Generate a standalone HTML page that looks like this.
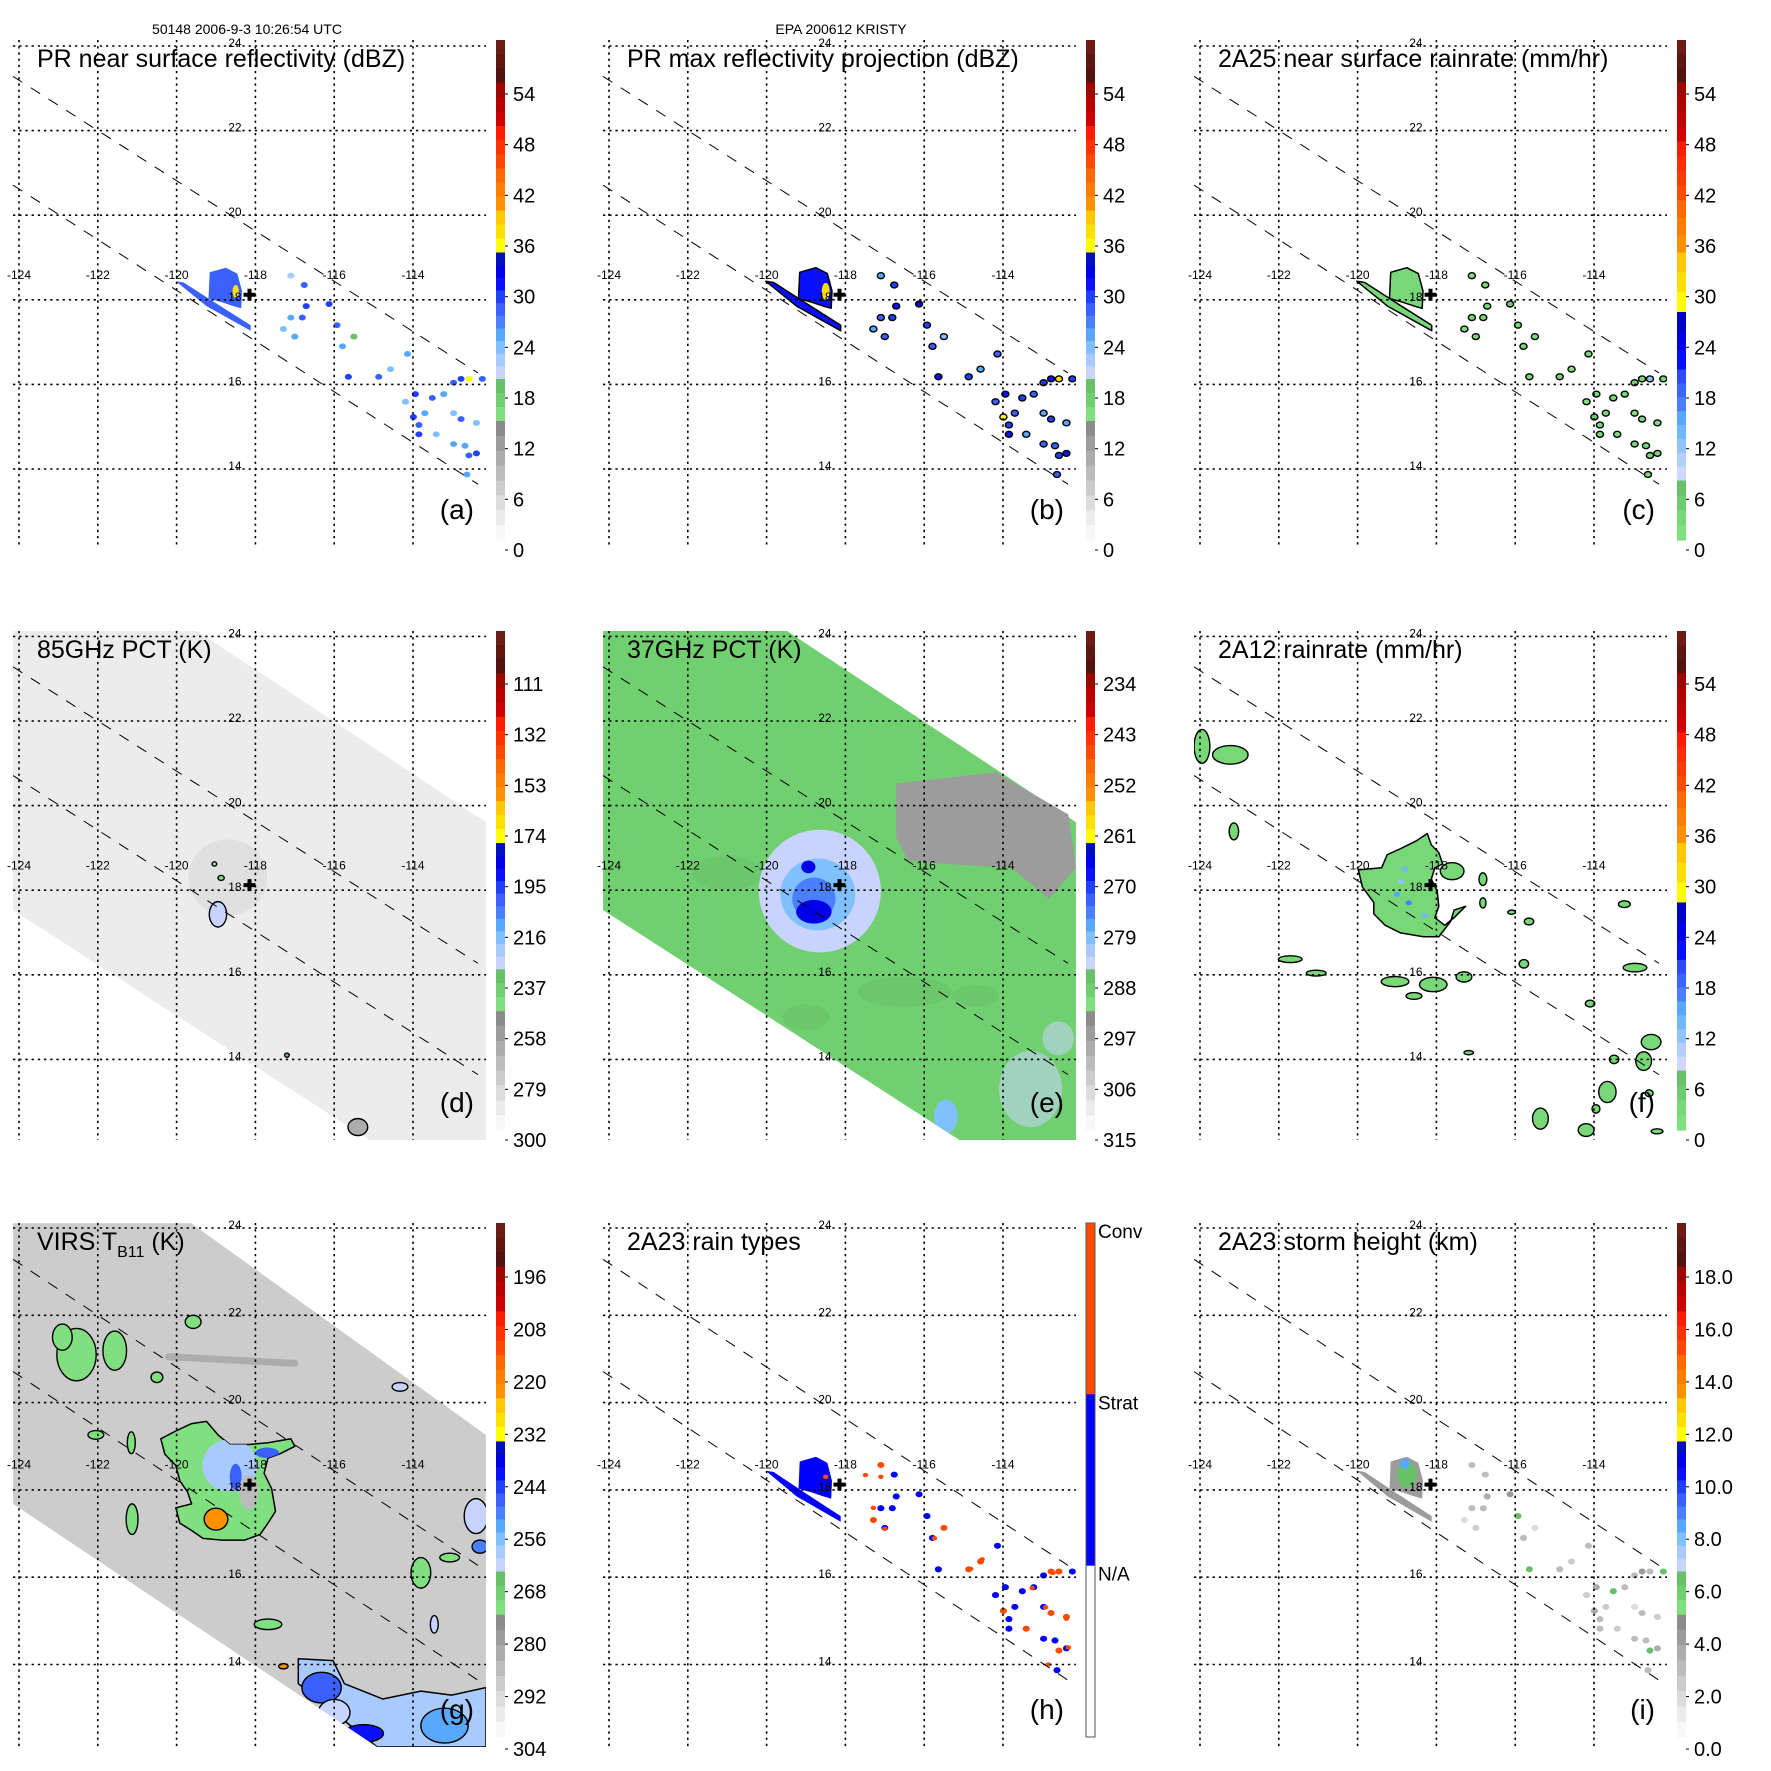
<!DOCTYPE html>
<html>
<head>
<meta charset="utf-8">
<style>
body{margin:0;background:#fff}
svg{display:block}
text{font-family:"Liberation Sans",sans-serif;fill:#000}
</style>
</head>
<body>
<svg id="fig" width="1771" height="1771" viewBox="0 0 1771 1771" xmlns="http://www.w3.org/2000/svg">
<rect x="0" y="0" width="1771" height="1771" fill="#ffffff"/>
<text x="247" y="34" font-size="14" text-anchor="middle">50148 2006-9-3 10:26:54 UTC</text>
<text x="841" y="34" font-size="14" text-anchor="middle">EPA 200612 KRISTY</text>
</svg>
<script>
// ---------------- data ----------------
const lonTicks=[-124,-122,-120,-118,-116,-114];
const latTicks=[24,22,20,18,16,14];
const dbzTicks=[54,48,42,36,30,24,18,12,6,0];
const pct85Ticks=[111,132,153,174,195,216,237,258,279,300];
const pct37Ticks=[234,243,252,261,270,279,288,297,306,315];
const virsTicks=[196,208,220,232,244,256,268,280,292,304];
const heightTicks=["18.0","16.0","14.0","12.0","10.0","8.0","6.0","4.0","2.0","0.0"];
const rainTypeTicks=["Conv","Strat","N/A"];
const stormCenter=[-118.15,18.12];
const swathLine1=[[-124.15,23.28],[-112.35,16.27]];
const swathLine2=[[-124.15,20.71],[-112.35,13.64]];
// PR echo cells (lon, lat)
const prCellLon=[-117.10,-116.76,-116.71,-116.81,-117.00,-117.29,-117.10,-116.13,-115.93,-115.50,-115.79,-115.64,-114.87,-114.57,-114.14,-113.94,-114.19,-113.51,-113.22,-112.97,-112.78,-112.58,-112.24,-113.99,-113.85,-113.70,-112.97,-112.78,-113.85,-113.41,-112.97,-112.39,-112.58,-112.68,-112.39,-112.63];
const prCellLat=[18.57,18.35,17.85,17.58,17.13,17.31,17.58,17.90,17.40,17.13,16.90,16.18,16.18,16.36,16.72,15.77,15.59,15.68,15.77,16.04,16.13,16.13,16.13,15.23,15.04,15.32,15.32,15.18,14.82,14.82,14.59,14.37,14.32,14.55,15.09,13.87];
const aCellVal=[22,28,30,28,26,24,26,30,28,20,26,30,28,24,26,30,24,28,26,28,30,36,28,30,28,26,24,28,30,24,26,30,28,26,24,26];
const bCellVal=[26,30,32,30,28,26,28,34,30,24,28,32,30,26,28,32,28,30,28,30,32,38,30,36,30,28,26,30,32,26,28,32,30,28,26,28];
const cCellVal=[2,3,4,3,3,2,3,5,4,1,3,4,3,2,3,4,2,3,3,3,4,12,3,5,3,3,2,3,4,2,3,4,3,3,2,3];
const hCellType=[2,1,1,1,1,2,1,1,1,2,1,1,2,2,1,1,1,1,1,1,2,2,1,2,1,1,1,2,1,2,1,1,2,1,2,1];
const iCellVal=[3,3,3.5,3,2.5,2,3,4,6.5,2,3,6.5,3,2.5,3,3.5,2.5,6.5,3,3,4,3,6.5,3.5,3,2.5,2,3,3,2.5,3,3.5,6.5,3,2.5,3];
// PR main echo (polygon)
const prBlobLon=[-119.16,-118.75,-118.46,-118.34,-118.36,-118.56,-118.85,-119.19];
const prBlobLat=[18.65,18.76,18.62,18.21,17.80,17.85,17.94,18.03];
const prBandLon=[-120.02,-119.82,-119.04,-118.12,-118.12,-119.24];
const prBandLat=[18.44,18.41,17.94,17.40,17.27,17.85];
const aBlobVal=29, bBlobVal=31, cBlobVal=4, iBlobVal=4.0;
// 2A23 convective pixels
const hConvLon=[-117.49,-117.10,-117.29,-117.00,-115.74,-114.82,-114.53,-113.26,-112.92,-113.99,-112.39,-112.73,-112.34,-112.85,-118.5];
const hConvLat=[18.34,18.30,17.59,17.11,16.89,16.19,16.41,15.75,15.31,15.22,15.05,16.10,14.39,14.00,18.3];
// microwave / IR swath edges
const swathRow2Lon=[-124.15,-119.5,-112.15,-112.15,-115.1,-124.15];
const swathRow2Lat=[24.14,24.14,19.61,12.09,12.09,17.53];
const swathRow3Lon=[-124.15,-119.63,-112.15,-112.15,-114.91,-124.15];
const swathRow3Lat=[24.11,24.11,19.26,12.11,12.11,17.68];
// (d) 85GHz
const dSwathVal=285;
const dBlobLon=[-118.7,-118.95,-119.04,-118.87,-117.2,-115.4];
const dBlobLat=[18.3,17.43,18.62,18.29,14.1,12.4];
const dBlobVal=[272,228,245,245,230,262];
const dBlobRxDeg=[1.0,0.22,0.06,0.08,0.06,0.25];
const dBlobRyDeg=[0.9,0.3,0.05,0.06,0.05,0.2];
// (e) 37GHz
const eSwathVal=289;
const eWarmLon=[-116.71,-114.19,-112.34,-112.15,-112.83,-113.80,-115.45,-116.42,-116.71];
const eWarmLat=[20.52,20.79,19.79,18.53,17.80,18.53,18.62,18.71,19.25];
const eWarmVal=295;
const ePatchLon=[-121.0,-116.5,-113.3,-112.6,-114.7,-119.0,-118.65,-118.7,-118.8,-118.94,-118.80,-115.45];
const ePatchLat=[18.4,15.6,13.3,14.5,15.5,15.0,17.98,17.9,17.8,18.55,17.49,12.65];
const ePatchVal=[285,285,284,284,285,285,284,279,274,266,266,278];
const ePatchRxDeg=[0.9,1.2,0.8,0.4,0.6,0.6,1.55,0.95,0.55,0.18,0.45,0.3];
const ePatchRyDeg=[0.4,0.35,0.9,0.4,0.25,0.3,1.45,0.85,0.5,0.15,0.28,0.4];
// (f) 2A12
const fMainLon=[-119.98,-119.39,-119.25,-118.91,-118.52,-118.23,-118.13,-117.94,-117.84,-118.04,-118.13,-117.98,-117.94,-118.04,-117.79,-117.55,-117.26,-117.55,-117.64,-117.94,-118.33,-118.91,-119.30,-119.59,-119.59,-119.88];
const fMainLat=[18.48,18.53,18.84,18.98,19.16,19.34,19.07,18.89,18.62,18.53,18.26,17.98,17.62,17.35,17.17,17.35,17.62,17.53,17.26,16.90,16.90,16.99,17.17,17.44,17.71,18.08];
const fMainVal=3;
const fBlobLon=[-123.95,-123.23,-123.14,-121.71,-121.05,-119.05,-118.57,-118.08,-117.30,-117.6,-116.82,-116.82,-116.09,-115.65,-115.78,-112.96,-113.23,-114.10,-112.55,-112.74,-113.49,-113.66,-115.36,-114.20,-113.95,-117.18,-112.6,-112.4];
const fBlobLat=[21.4,21.2,19.39,16.37,16.04,15.84,15.50,15.77,15.95,18.45,18.26,17.70,17.48,17.26,16.26,16.17,17.67,15.32,14.41,13.96,14.00,13.23,12.60,12.33,12.83,14.16,13.2,12.3];
const fBlobVal=[3,3,3,3,3,3,3,3,3,3,3,3,3,3,3,3,3,3,3,3,3,3,3,3,3,3,3,3];
const fBlobRxDeg=[0.2,0.45,0.12,0.3,0.25,0.35,0.2,0.35,0.2,0.3,0.1,0.08,0.1,0.12,0.12,0.3,0.15,0.12,0.25,0.2,0.12,0.22,0.2,0.2,0.1,0.12,0.1,0.15];
const fBlobRyDeg=[0.4,0.22,0.2,0.08,0.07,0.12,0.08,0.17,0.12,0.2,0.15,0.12,0.05,0.08,0.1,0.1,0.08,0.08,0.18,0.22,0.1,0.25,0.25,0.15,0.1,0.05,0.08,0.06];
const fSpotLon=[-118.8,-119.0,-118.7,-118.3,-118.9];
const fSpotLat=[18.5,17.9,17.7,17.4,18.2];
const fSpotVal=[14,16,18,14,12];
// (g) VIRS
const gSwathVal=290;
const gStormLon=[-120.40,-120.02,-119.62,-119.24,-118.95,-118.65,-118.17,-117.68,-117.10,-117.00,-117.39,-117.68,-117.78,-117.59,-117.49,-117.68,-117.88,-118.27,-118.85,-119.33,-119.62,-119.92,-120.02,-119.62,-119.72,-119.92,-120.02,-120.30];
const gStormLat=[19.17,19.35,19.52,19.57,19.26,19.04,19.04,19.08,19.17,19.00,18.82,18.73,18.38,18.03,17.51,17.24,16.98,16.85,16.85,16.89,17.07,17.24,17.59,17.68,17.95,18.21,18.56,18.82];
const gStormVal=270;
const gInnerLon=[-118.65,-118.5,-117.7,-118.17,-119.0];
const gInnerLat=[18.56,18.3,18.85,17.95,17.33];
const gInnerVal=[258,248,248,286,222];
const gInnerRxDeg=[0.7,0.15,0.3,0.25,0.3];
const gInnerRyDeg=[0.6,0.3,0.12,0.4,0.25];
const gSouthLon=[-116.91,-116.03,-115.74,-114.77,-113.80,-113.02,-112.15,-112.15,-114.91,-116.91];
const gSouthLat=[14.13,14.09,13.56,13.21,13.39,13.30,13.47,12.11,12.11,13.56];
const gSouthVal=258;
const gBlobLon=[-122.54,-121.57,-122.9,-120.50,-119.58,-122.05,-121.13,-121.15,-116.32,-115.25,-112.4,-112.3,-113.8,-113.46,-113.07,-117.68,-114.33,-117.29,-113.2,-116.0];
const gBlobLat=[21.10,21.19,21.5,20.58,21.85,19.26,17.33,19.08,13.47,12.42,17.4,16.7,16.10,14.92,16.45,14.92,20.36,13.96,12.6,12.9];
const gBlobVal=[270,270,270,270,270,270,270,270,248,240,262,250,270,262,270,270,262,222,252,262];
const gBlobRxDeg=[0.5,0.3,0.25,0.15,0.2,0.2,0.15,0.1,0.5,0.5,0.3,0.2,0.25,0.1,0.25,0.35,0.2,0.12,0.6,0.4];
const gBlobRyDeg=[0.6,0.45,0.3,0.12,0.15,0.1,0.35,0.25,0.35,0.2,0.4,0.15,0.35,0.2,0.1,0.12,0.1,0.06,0.4,0.3];
const gStreakLon=[-120.2,-117.0];
const gStreakLat=[21.05,20.9];
const gStreakVal=282;

// ---------------- layout ----------------
const COLS=[0,590,1181];
const ROWS=[
 {top:40,lat0:46,ky:42.3,bot:547,cbTop:40,cbBot:540,lblBot:550,span:456},
 {top:631,lat0:636.4,ky:42.3,bot:1140,cbTop:631,cbBot:1130,lblBot:1140,span:456},
 {top:1223,lat0:1228,ky:43.65,bot:1747,cbTop:1223,cbBot:1737,lblBot:1749,span:472}
];
function band(f0,f1,cols){return cols.map((c,i)=>[f0+(f1-f0)*i/cols.length,f0+(f1-f0)*(i+1)/cols.length,c]);}
const BROWN=['#6b1c14','#5e1610','#521210'];
const PAL_A=[].concat(
 band(0,.085,BROWN),
 band(.085,.172,['#9c0800','#b80000','#cc0000']),
 band(.172,.257,['#ff1c00','#ff3200','#ff4800']),
 band(.257,.341,['#ff6a00','#ff7e00','#ff9000']),
 band(.341,.425,['#ffc800','#ffe000','#ffff00']),
 band(.425,.678,['#0010c0','#0000e8','#0a10ff','#2040ff','#3a60ff','#4a80ff','#58a8ff','#80c0ff','#a8caff','#c8d4ff']),
 band(.678,.762,['#68c068','#70d070','#80e080']),
 band(.762,1,['#8c8c8c','#9c9c9c','#acacac','#bcbcbc','#cccccc','#dcdcdc','#ececec','#f8f8f8']));
const PAL_C=[].concat(
 band(0,.084,BROWN),
 band(.084,.203,['#9c0800','#b00000','#c00000','#d00000']),
 band(.203,.321,['#ff1c00','#ff2c00','#ff3c00','#ff4c00']),
 band(.321,.425,['#ff6a00','#ff7e00','#ff9000']),
 band(.425,.544,['#ffc800','#ffe000','#ffff00']),
 band(.544,.659,['#0000c8','#0000e8','#0010ff']),
 band(.659,.881,['#3048ff','#3c64ff','#4a80ff','#58a8ff','#70b8ff','#90c4ff','#b4ceff','#d0d8ff']),
 band(.881,1,['#68c068','#70cc70','#78d878','#80e080']));
const PAL_H=[[0,1/3,'#ff4a00'],[1/3,2/3,'#0000ff'],[2/3,1,'#ffffff']];
const PANELS=[
 {id:'a',col:0,row:0,title:'PR near surface reflectivity (dBZ)',ticks:dbzTicks,pal:PAL_A},
 {id:'b',col:1,row:0,title:'PR max reflectivity projection (dBZ)',ticks:dbzTicks,pal:PAL_A},
 {id:'c',col:2,row:0,title:'2A25 near surface rainrate (mm/hr)',ticks:dbzTicks,pal:PAL_C},
 {id:'d',col:0,row:1,title:'85GHz PCT (K)',ticks:pct85Ticks,pal:PAL_A},
 {id:'e',col:1,row:1,title:'37GHz PCT (K)',ticks:pct37Ticks,pal:PAL_A},
 {id:'f',col:2,row:1,title:'2A12 rainrate (mm/hr)',ticks:dbzTicks,pal:PAL_C},
 {id:'g',col:0,row:2,title:'VIRS',ticks:virsTicks,pal:PAL_A},
 {id:'h',col:1,row:2,title:'2A23 rain types',ticks:rainTypeTicks,pal:PAL_H},
 {id:'i',col:2,row:2,title:'2A23 storm height (km)',ticks:heightTicks,pal:PAL_A}
];

const NS='http://www.w3.org/2000/svg';
const svg=document.getElementById('fig');
function mk(tag,parent,attrs){const e=document.createElementNS(NS,tag);for(const k in attrs)e.setAttribute(k,attrs[k]);parent.appendChild(e);return e;}

function X(p,lon){return COLS[p.col]+19+(lon+124)*39.4;}
function Y(p,lat){const R=ROWS[p.row];return R.lat0+(24-lat)*R.ky;}
function valueFrac(p,v){
 const R=ROWS[p.row];const t=p.ticks.map(Number);const n=t.length;
 const lo=t[n-1],hi=t[0];const idx=(v-lo)/(hi-lo)*(n-1);
 const y=R.lblBot-idx*R.span/(n-1);
 return Math.max(0,Math.min(0.999,(y-R.cbTop)/(R.cbBot-R.cbTop)));
}
function colorOf(p,v){const f=valueFrac(p,v);for(const b of p.pal){if(f>=b[0]&&f<b[1])return b[2];}return p.pal[p.pal.length-1][2];}
function polyPts(p,lons,lats){return lons.map((l,i)=>X(p,l).toFixed(1)+','+Y(p,lats[i]).toFixed(1)).join(' ');}
function kx(){return 39.4;}
function ky(p){return ROWS[p.row].ky;}

function drawPanel(p){
 const R=ROWS[p.row];const cx=COLS[p.col];
 const g=mk('g',svg,{});
 
 
 const clip=mk('clipPath',g,{id:'clip-'+p.id});
 mk('rect',clip,{x:cx+13,y:R.top,width:473,height:R.bot-R.top});
 const data=mk('g',g,{'clip-path':'url(#clip-'+p.id+')'});
 
 
 drawData(p,data);
 [swathLine1,swathLine2].forEach((ln,k)=>{
  const l=mk('line',g,{x1:X(p,ln[0][0]),y1:Y(p,ln[0][1]),x2:X(p,ln[1][0]),y2:Y(p,ln[1][1]),stroke:'#000','stroke-width':1,'stroke-dasharray':'11,10'});
  
  
 });
 lonTicks.forEach(lon=>{
  const l=mk('line',g,{x1:X(p,lon),y1:R.top,x2:X(p,lon),y2:R.bot,stroke:'#000','stroke-width':1.6,'stroke-dasharray':'2.3,3.9'});
  
  
  const t=mk('text',g,{x:X(p,lon),y:Y(p,18.49),'font-size':12,'text-anchor':'middle'});
  t.textContent=String(lon);
  
  
 });
 latTicks.forEach(lat=>{
  const l=mk('line',g,{x1:cx+13,y1:Y(p,lat),x2:cx+486,y2:Y(p,lat),stroke:'#000','stroke-width':1.6,'stroke-dasharray':'2.3,3.9'});
  
  
  const t=mk('text',g,{x:X(p,-118.52),y:Y(p,lat)+1,'font-size':12,'text-anchor':'middle'});
  t.textContent=String(lat);
  
  
 });
 const sx=X(p,stormCenter[0]),sy=Y(p,stormCenter[1]);
 const cr=mk('path',g,{d:`M${sx-6},${sy-2}h12v4h-12z M${sx-2},${sy-6}h4v12h-4z`,fill:'#000'});
 
 
 const tt=mk('text',g,{x:cx+37,y:R.top+27,'font-size':25});
 
 
 if(p.id==='g'){
  tt.textContent='VIRS T';
  const s=mk('tspan',tt,{'font-size':16,dy:7});s.textContent='B11';
  const s2=mk('tspan',tt,{'font-size':25,dy:-7});s2.textContent=' (K)';
 } else tt.textContent=p.title;
 const lt=mk('text',g,{x:cx+474,y:R.bot-28,'font-size':28,'text-anchor':'end'});
 lt.textContent='('+p.id+')';
 
 
 drawColorbar(p,g);
}

function drawColorbar(p,g){
 const R=ROWS[p.row];const cx=COLS[p.col];const H=R.cbBot-R.cbTop;
 const cb=mk('g',g,{});
 
 
 p.pal.forEach(b=>{mk('rect',cb,{x:cx+496,y:(R.cbTop+b[0]*H).toFixed(2),width:9,height:((b[1]-b[0])*H+0.6).toFixed(2),fill:b[2]});});
 if(p.id==='h'){
  mk('rect',cb,{x:cx+496,y:R.cbTop,width:9,height:H,fill:'none',stroke:'#555','stroke-width':1});
  p.ticks.forEach((t,i)=>{
   const tx=mk('text',cb,{x:cx+508,y:R.cbTop+i*H/3+15,'font-size':19});
   tx.textContent=t;
   
   
  });
  return;
 }
 const n=p.ticks.length;
 p.ticks.forEach((t,i)=>{
  const yc=R.lblBot-(n-1-i)*R.span/(n-1);
  mk('line',cb,{x1:cx+505,y1:yc,x2:cx+508,y2:yc,stroke:'#000','stroke-width':1});
  const tx=mk('text',cb,{x:cx+513,y:yc+7,'font-size':20});
  tx.textContent=String(t);
  
  
 });
}

function ell(p,parent,lon,lat,rxd,ryd,fill,stroke){
 const a={cx:X(p,lon),cy:Y(p,lat),rx:rxd*kx(),ry:ryd*ky(p),fill:fill};
 if(stroke){a.stroke=stroke;a['stroke-width']=1.4;}
 return mk('ellipse',parent,a);
}
function poly(p,parent,lons,lats,fill,stroke){
 const a={points:polyPts(p,lons,lats),fill:fill};
 if(stroke){a.stroke=stroke;a['stroke-width']=1.5;a['stroke-linejoin']='round';}
 return mk('polygon',parent,a);
}

function drawPR(p,data,vals,blobVal,outline){
 const blobCol=p.id==='h'?'#0000ff':colorOf(p,blobVal);
 const b1=poly(p,data,prBlobLon,prBlobLat,blobCol,outline);
 
 
 const b2=poly(p,data,prBandLon,prBandLat,blobCol,outline);
 
 
 prCellLon.forEach((lon,i)=>{
  const c=p.id==='h'?(vals[i]===2?'#ff4a00':'#0000ff'):colorOf(p,vals[i]);
  const e=ell(p,data,lon,prCellLat[i],0.09,0.07,c,outline);
  
  
 });
}

function drawData(p,data){
 if(p.id==='a'){
  drawPR(p,data,aCellVal,aBlobVal,null);
  const y=ell(p,data,-118.5,18.2,0.08,0.15,colorOf(p,37),null);
  
  
 }
 if(p.id==='b'){
  drawPR(p,data,bCellVal,bBlobVal,'#000');
  const y=ell(p,data,-118.5,18.2,0.1,0.2,colorOf(p,38),null);
  
  
 }
 if(p.id==='c'){ drawPR(p,data,cCellVal,cBlobVal,'#000'); }
 if(p.id==='h'){
  drawPR(p,data,hCellType,0,null);
  hConvLon.forEach((lon,i)=>{
   const e=ell(p,data,lon,hConvLat[i],0.07,0.05,'#ff4a00',null);
   
   
  });
 }
 if(p.id==='i'){
  drawPR(p,data,iCellVal,iBlobVal,null);
  const gr=ell(p,data,-118.75,18.35,0.25,0.3,colorOf(p,6.5),null);
  
  
  const lb=ell(p,data,-118.8,18.6,0.12,0.12,colorOf(p,8.5),null);
  
  
 }
 if(p.id==='d'){
  const s=poly(p,data,swathRow2Lon,swathRow2Lat,colorOf(p,dSwathVal),null);
  
  
  dBlobLon.forEach((lon,i)=>{
   const e=ell(p,data,lon,dBlobLat[i],dBlobRxDeg[i],dBlobRyDeg[i],colorOf(p,dBlobVal[i]),i>0?'#000':null);
   if(i===0)e.setAttribute('opacity','0.35');
   
   
  });
 }
 if(p.id==='e'){
  const s=poly(p,data,swathRow2Lon,swathRow2Lat,colorOf(p,eSwathVal),null);
  
  
  const w=poly(p,data,eWarmLon,eWarmLat,colorOf(p,eWarmVal),null);
  
  
  const sc=mk('clipPath',data,{id:'swath-e'});
  poly(p,sc,swathRow2Lon,swathRow2Lat,'#000',null);
  const inner=mk('g',data,{'clip-path':'url(#swath-e)'});
  ePatchLon.forEach((lon,i)=>{
   const e=ell(p,inner,lon,ePatchLat[i],ePatchRxDeg[i],ePatchRyDeg[i],colorOf(p,ePatchVal[i]),null);
   if(i<6)e.setAttribute('opacity','0.55');
   
   
  });
 }
 if(p.id==='f'){
  const m=poly(p,data,fMainLon,fMainLat,colorOf(p,fMainVal),'#000');
  
  
  fSpotLon.forEach((lon,i)=>{
   const e=ell(p,data,lon,fSpotLat[i],0.08,0.06,colorOf(p,fSpotVal[i]),null);
   
   
  });
  fBlobLon.forEach((lon,i)=>{
   const e=ell(p,data,lon,fBlobLat[i],fBlobRxDeg[i],fBlobRyDeg[i],colorOf(p,fBlobVal[i]),'#000');
   
   
  });
 }
 if(p.id==='g'){
  const s=poly(p,data,swathRow3Lon,swathRow3Lat,colorOf(p,gSwathVal),null);
  
  
  const sc=mk('clipPath',data,{id:'swath-g'});
  poly(p,sc,swathRow3Lon,swathRow3Lat,'#000',null);
  const inner=mk('g',data,{'clip-path':'url(#swath-g)'});
  const st=mk('line',inner,{x1:X(p,gStreakLon[0]),y1:Y(p,gStreakLat[0]),x2:X(p,gStreakLon[1]),y2:Y(p,gStreakLat[1]),stroke:colorOf(p,gStreakVal),'stroke-width':7,'stroke-linecap':'round'});
  
  
  const so=poly(p,inner,gSouthLon,gSouthLat,colorOf(p,gSouthVal),'#000');
  
  
  gBlobLon.forEach((lon,i)=>{
   const e=ell(p,inner,lon,gBlobLat[i],gBlobRxDeg[i],gBlobRyDeg[i],colorOf(p,gBlobVal[i]),'#000');
   
   
  });
  const sm=poly(p,inner,gStormLon,gStormLat,colorOf(p,gStormVal),'#000');
  
  
  const cc=mk('clipPath',data,{id:'storm-g'});
  poly(p,cc,gStormLon,gStormLat,'#000',null);
  const si=mk('g',inner,{'clip-path':'url(#storm-g)'});
  gInnerLon.forEach((lon,i)=>{
   const e=ell(p,si,lon,gInnerLat[i],gInnerRxDeg[i],gInnerRyDeg[i],colorOf(p,gInnerVal[i]),i===4?'#000':null);
   
   
  });
 }
}

PANELS.forEach(drawPanel);
</script>
</body>
</html>
